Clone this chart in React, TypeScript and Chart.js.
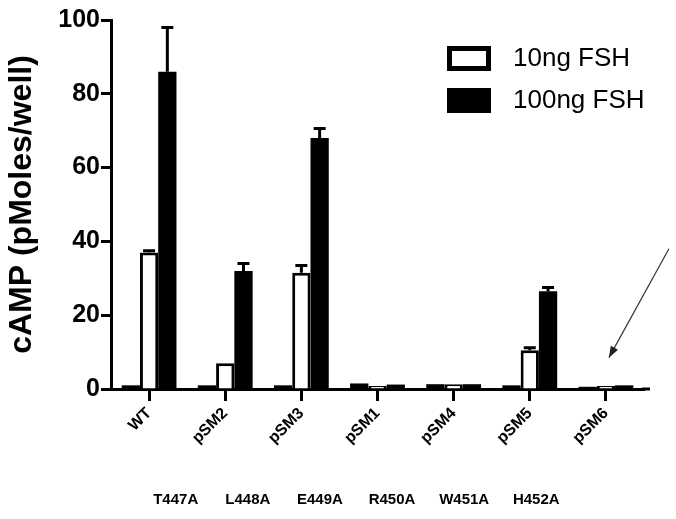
import React, { useEffect, useRef } from "react";
import { Chart, registerables } from "chart.js";

Chart.register(...registerables);

const categories = ["WT", "pSM2", "pSM3", "pSM1", "pSM4", "pSM5", "pSM6"];
const mutations = ["T447A", "L448A", "E449A", "R450A", "W451A", "H452A"];
const basal = [1, 1, 1, 1.5, 1.3, 1, 0.6];
const fsh10 = [37, 7, 31.5, 0.8, 1.3, 10.5, 0.8];
const fsh10Err = [0.5, 0, 2, 0, 0, 0.7, 0];
const fsh100 = [86, 32, 68, 1.2, 1.3, 26.5, 1];
const fsh100Err = [12, 2, 2.6, 0, 0, 1, 0];
const yMin = 0;
const yMax = 100;
const yStep = 20;

const FONT = "'Liberation Sans', Arial, sans-serif";

const errorBarPlugin = {
  id: "errorBars",
  afterDatasetsDraw(chart: any) {
    const ctx = chart.ctx;
    const y = chart.scales.y;
    chart.data.datasets.forEach((ds: any, i: number) => {
      if (!ds.errors) return;
      const meta = chart.getDatasetMeta(i);
      meta.data.forEach((bar: any, j: number) => {
        const e = ds.errors[j];
        if (!e) return;
        const top = y.getPixelForValue(ds.data[j] + e);
        ctx.save();
        ctx.strokeStyle = "#000";
        ctx.lineWidth = 3;
        ctx.beginPath();
        ctx.moveTo(bar.x, bar.y);
        ctx.lineTo(bar.x, top);
        ctx.moveTo(bar.x - 6, top);
        ctx.lineTo(bar.x + 6, top);
        ctx.stroke();
        ctx.restore();
      });
    });
  },
};

const extrasPlugin = {
  id: "extras",
  afterDraw(chart: any) {
    const ctx = chart.ctx;
    const area = chart.chartArea;
    const xs = chart.scales.x;
    const ys = chart.scales.y;
    const catW = (area.right - area.left) / categories.length;
    ctx.save();
    // extend x axis line slightly to the right
    ctx.strokeStyle = "#000";
    ctx.lineWidth = 3;
    ctx.beginPath();
    ctx.moveTo(area.right - 2, area.bottom);
    ctx.lineTo(area.right + 6, area.bottom);
    ctx.stroke();
    // mutation labels
    ctx.fillStyle = "#000";
    ctx.font = `bold 15px ${FONT}`;
    ctx.textAlign = "center";
    ctx.textBaseline = "middle";
    mutations.forEach((m, i) => {
      const x = xs.getPixelForValue(0) + catW * (0.35 + i * 0.947);
      ctx.fillText(m, x, area.bottom + 111);
    });
    // legend
    const lx = area.left + 336;
    const items = [
      { label: chart.data.datasets[1].label, fill: "#fff" },
      { label: chart.data.datasets[2].label, fill: "#000" },
    ];
    ctx.font = `26px ${FONT}`;
    ctx.textAlign = "left";
    items.forEach((it, k) => {
      const cy = 58 + k * 42;
      ctx.fillStyle = it.fill;
      ctx.fillRect(lx, cy - 12, 44, 25);
      ctx.strokeStyle = "#000";
      ctx.lineWidth = 5;
      ctx.strokeRect(lx + 2.5, cy - 9.5, 39, 20);
      ctx.fillStyle = "#000";
      ctx.fillText(it.label, lx + 66, cy + 1);
    });
    // arrow
    const tipX = xs.getPixelForValue(6) + 3;
    const tipY = ys.getPixelForValue(8.5);
    const tailX = tipX + 60;
    const tailY = ys.getPixelForValue(38);
    ctx.strokeStyle = "#333";
    ctx.lineWidth = 1.2;
    ctx.beginPath();
    ctx.moveTo(tailX, tailY);
    ctx.lineTo(tipX, tipY);
    ctx.stroke();
    const ang = Math.atan2(tipY - tailY, tipX - tailX);
    const L = 12;
    ctx.fillStyle = "#222";
    ctx.beginPath();
    ctx.moveTo(tipX, tipY);
    ctx.lineTo(tipX - L * Math.cos(ang - 0.35), tipY - L * Math.sin(ang - 0.35));
    ctx.lineTo(tipX - L * Math.cos(ang + 0.35), tipY - L * Math.sin(ang + 0.35));
    ctx.closePath();
    ctx.fill();
    ctx.restore();
  },
};

export default function App() {
  const ref = useRef<HTMLCanvasElement>(null);
  useEffect(() => {
    document.body.style.margin = "0";
    const chart = new Chart(ref.current!, {
      type: "bar",
      data: {
        labels: categories,
        datasets: [
          {
            label: "Basal",
            data: basal,
            backgroundColor: "#000",
            borderColor: "#000",
            borderWidth: 0,
          },
          {
            label: "10ng FSH",
            data: fsh10,
            backgroundColor: "#fff",
            borderColor: "#000",
            borderWidth: 3,
            errors: fsh10Err,
          } as any,
          {
            label: "100ng FSH",
            data: fsh100,
            backgroundColor: "#000",
            borderColor: "#000",
            borderWidth: 0,
            errors: fsh100Err,
          } as any,
        ],
      },
      options: {
        responsive: false,
        animation: false,
        categoryPercentage: 0.72,
        barPercentage: 1,
        layout: { padding: { left: 0, right: 32, top: 20, bottom: 0 } },
        plugins: {
          legend: { display: false },
          tooltip: { enabled: false },
        },
        scales: {
          x: {
            grid: {
              display: true,
              drawOnChartArea: false,
              drawTicks: true,
              tickLength: 12,
              tickWidth: 3,
              tickColor: "#000",
              offset: false,
            },
            border: { color: "#000", width: 3 },
            ticks: {
              color: "#000",
              font: { family: FONT, size: 16, weight: "bold" },
              maxRotation: 45,
              minRotation: 45,
              padding: 3,
            },
            afterFit: (s: any) => {
              s.height = 130;
            },
          },
          y: {
            min: yMin,
            max: yMax,
            grid: {
              drawOnChartArea: false,
              drawTicks: true,
              tickLength: 10,
              tickWidth: 3,
              tickColor: "#000",
            },
            border: { color: "#000", width: 3 },
            ticks: {
              stepSize: yStep,
              color: "#000",
              font: { family: FONT, size: 25, weight: "bold" },
              padding: 1,
            },
            title: {
              display: true,
              text: "cAMP (pMoles/well)",
              color: "#000",
              font: { family: FONT, size: 32, weight: "bold" },
              padding: { top: 3, bottom: 0 },
            },
            afterFit: (s: any) => {
              s.width = 111;
            },
          },
        },
      } as any,
      plugins: [errorBarPlugin, extrasPlugin],
    });
    return () => chart.destroy();
  }, []);
  return (
    <div style={{ width: 676, height: 519 }}>
      <canvas ref={ref} width={676} height={519} />
    </div>
  );
}
